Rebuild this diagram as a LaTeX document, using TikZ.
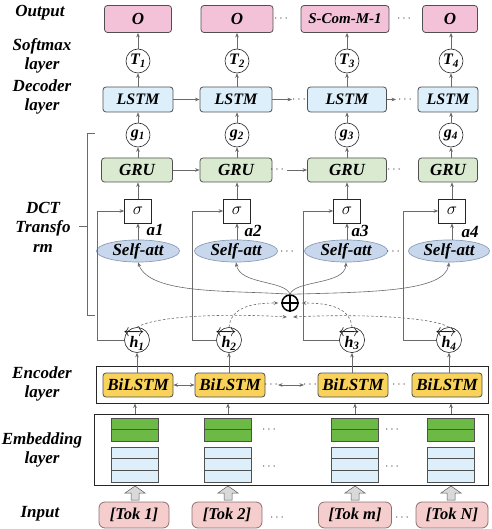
\documentclass[tikz,border=0pt]{standalone}
\usepackage{fontspec}
\usepackage{amsmath}
\setmainfont{Liberation Serif}
\usetikzlibrary{arrows.meta,shapes.geometric,calc}
\definecolor{linec}{HTML}{6A6A6A}
\definecolor{boxb}{HTML}{505050}
\definecolor{outpink}{HTML}{F3C2D9}
\definecolor{lstmblue}{HTML}{DDEFFA}
\definecolor{grugreen}{HTML}{D9EAD0}
\definecolor{attblue}{HTML}{C8D7EB}
\definecolor{attb}{HTML}{8A9DB8}
\definecolor{bilyellow}{HTML}{F8D25A}
\definecolor{embgreen}{HTML}{6CBA45}
\definecolor{inppink}{HTML}{F6CDCD}
\definecolor{inpb}{HTML}{8A7070}
\tikzset{
 txt/.style={font=\fontsize{17}{19.5}\selectfont\bfseries\itshape, inner sep=0pt},
 sidelbl/.style={txt, align=center},
 conn/.style={draw=linec, line width=0.6pt},
 arr/.style={conn, -{Stealth[length=4.5pt,width=3.6pt]}},
 dsh/.style={arr, dash pattern=on 2.5pt off 2pt},
 rbox/.style={txt, draw=boxb, line width=0.8pt, rounded corners=3pt},
 outbox/.style={rbox, fill=outpink, minimum height=27pt},
 lstmbox/.style={rbox, fill=lstmblue, minimum height=25pt, font=\fontsize{16}{18}\selectfont\bfseries\itshape},
 grubox/.style={rbox, fill=grugreen, minimum height=24pt},
 circ/.style={txt, circle, draw=black!85, line width=0.6pt, fill=white, minimum size=24pt, font=\fontsize{16}{18}\selectfont\bfseries\itshape},
 sigbox/.style={draw=black!85, line width=0.7pt, fill=white, minimum width=27pt, minimum height=24pt, inner sep=0pt, font=\fontsize{16}{18}\selectfont},
 attell/.style={txt, ellipse, draw=attb, line width=0.7pt, fill=attblue, minimum width=83pt, minimum height=22pt, font=\fontsize{17}{20}\selectfont\bfseries\itshape},
 bil/.style={rbox, fill=bilyellow, minimum width=70pt, minimum height=24pt, font=\fontsize{17}{20}\selectfont\bfseries\itshape},
 grn/.style={draw=boxb, line width=0.6pt, fill=embgreen, minimum width=47pt, minimum height=23pt, inner sep=0pt},
 blu/.style={draw=boxb, line width=0.6pt, fill=lstmblue, minimum width=47pt, minimum height=35pt, inner sep=0pt},
 inp/.style={rbox, fill=inppink, draw=inpb, rounded corners=6pt, minimum width=70pt, minimum height=26pt, font=\fontsize{16.5}{19}\selectfont\bfseries\itshape},
 dotsn/.style={font=\fontsize{12}{14}\selectfont, inner sep=0pt, text=black!75},
 outframe/.style={draw=black!85, line width=1pt, inner sep=0pt},
 fat/.style={draw=gray!70!black, fill=gray!30, line width=0.5pt},
 alab/.style={txt},
}
\newcommand{\hv}[1]{\makebox[0.56em][c]{$\overleftrightarrow{\text{h}}$}\textsubscript{#1}}
\begin{document}
\begin{tikzpicture}[x=1pt,y=-1pt]
\useasboundingbox (0,0) rectangle (491,529);

% left labels
\node[sidelbl] (lout) at (40,13) {Output};
\node[sidelbl] (lsoft) at (42,56) {Softmax\\layer};
\node[sidelbl] (ldec) at (42,97) {Decoder\\layer};
\node[sidelbl] (ldct) at (43,227) {DCT\\Transfo\\rm};
\node[sidelbl] (lenc) at (42,384) {Encoder\\layer};
\node[sidelbl] (lemb) at (42,450) {Embedding\\layer};
\node[sidelbl] (linp) at (40,514) {Input};

% bracket
\draw[conn] (95,133) -- (87,133) -- (87,315) -- (95,315);
\draw[conn] (87,226) -- (79,226);

% output row
\node[outbox, minimum width=67pt] (o1) at (138,19) {O};
\node[outbox, minimum width=72pt] (o2) at (237,19) {O};
\node[outbox, minimum width=88pt, font=\fontsize{15}{18}\selectfont\bfseries\itshape] (o3) at (345,19) {S-Com-M-1};
\node[outbox, minimum width=55pt] (o4) at (450,19) {O};
\node[dotsn] (od1) at (282,19) {$\cdots$};
\node[dotsn] (od2) at (405,19) {$\cdots$};

% softmax
\node[circ] (t1) at (138,61) {T\textsubscript{1}};
\node[circ] (t2) at (237,61) {T\textsubscript{2}};
\node[circ] (t3) at (347,61) {T\textsubscript{3}};
\node[circ] (t4) at (451,61) {T\textsubscript{4}};

% decoder
\node[lstmbox, minimum width=70pt] (ls1) at (138,99.5) {LSTM};
\node[lstmbox, minimum width=72pt] (ls2) at (236,99.5) {LSTM};
\node[lstmbox, minimum width=79pt] (ls3) at (347,99.5) {LSTM};
\node[lstmbox, minimum width=60pt] (ls4) at (448,99.5) {LSTM};
\coordinate (la) at (292,99.5);
\coordinate (lb) at (396,99.5);
\node[dotsn] (ld1) at (300,99.5) {$\cdots$};
\node[dotsn] (ld2) at (406,99.5) {$\cdots$};

% g circles
\node[circ] (g1) at (138,135) {g\textsubscript{1}};
\node[circ] (g2) at (237,135) {g\textsubscript{2}};
\node[circ] (g3) at (347,135) {g\textsubscript{3}};
\node[circ] (g4) at (451,135) {g\textsubscript{4}};

% GRU
\node[grubox, minimum width=71pt] (gr1) at (137,170) {GRU};
\node[grubox, minimum width=72pt] (gr2) at (236,170) {GRU};
\node[grubox, minimum width=79pt] (gr3) at (347,170) {GRU};
\node[grubox, minimum width=59pt] (gr4) at (448,170) {GRU};
\node[dotsn] (gd1) at (278,170) {$\cdots$};
\coordinate (ga) at (287,170);
\node[dotsn] (gd2) at (395,170) {$\cdots$};

% sigma
\node[sigbox] (s1) at (138,211) {$\sigma$};
\node[sigbox] (s2) at (237,211) {$\sigma$};
\node[sigbox] (s3) at (347,211) {$\sigma$};
\node[sigbox] (s4) at (452,211) {$\sigma$};

% self-att
\node[attell] (a1) at (138,251) {Self-att};
\node[attell] (a2) at (236,251) {Self-att};
\node[attell] (a3) at (346,251) {Self-att};
\node[attell, minimum width=81pt] (a4) at (449,251) {Self-att};
\node[dotsn] (ad1) at (288,252) {$\cdots$};
\node[dotsn] (ad2) at (394,252) {$\cdots$};
\node[alab] (al1) at (155,230) {a1};
\node[alab] (al2) at (253,231) {a2};
\node[alab] (al3) at (360,231) {a3};
\node[alab] (al4) at (470,232) {a4};

% plus
\node[circle, draw=black, line width=1.5pt, minimum size=16pt, inner sep=0pt] (pl) at (290,303) {};
\draw[line width=1.5pt] (pl.north) -- (pl.south) (pl.west) -- (pl.east);
\coordinate (pbl) at (287,317);
\coordinate (pbr) at (293,317);

% h circles
\node[circ] (h1) at (137,340) {\hv{1}};
\node[circ] (h2) at (229,340) {\hv{2}};
\node[circ] (h3) at (352,340) {\hv{3}};
\node[circ] (h4) at (449,340) {\hv{4}};

% encoder
\node[outframe, minimum width=392pt, minimum height=37pt] (enc) at (292,384.5) {};
\node[bil] (b1) at (138,385) {BiLSTM};
\node[bil] (b2) at (230,385) {BiLSTM};
\node[bil] (b3) at (353,385) {BiLSTM};
\node[bil] (b4) at (447,385) {BiLSTM};
\node[dotsn] (bd1) at (272,385) {$\cdots$};
\coordinate (bla) at (278,385);
\coordinate (blb) at (304,385);
\node[dotsn] (bd2) at (311,385) {$\cdots$};
\node[dotsn] (bd3) at (400,385) {$\cdots$};

% embedding
\node[outframe, minimum width=394pt, minimum height=71pt] (emb) at (291,449.5) {};
\foreach \n/\x in {1/135,2/228,3/355,4/451}{
  \node[grn] (e\n) at (\x,429.5) {};
  \draw[boxb, line width=0.6pt] (e\n.west) -- (e\n.east);
  \node[blu] (f\n) at (\x,464.5) {};
  \draw[boxb, line width=0.6pt] ($(f\n.north west)!1/3!(f\n.south west)$) -- ($(f\n.north east)!1/3!(f\n.south east)$);
  \draw[boxb, line width=0.6pt] ($(f\n.north west)!2/3!(f\n.south west)$) -- ($(f\n.north east)!2/3!(f\n.south east)$);
}
\node[dotsn] (ed1) at (270,430) {$\cdots$};
\node[dotsn] (ed2) at (270,467) {$\cdots$};
\node[dotsn] (ed3) at (393,430) {$\cdots$};
\node[dotsn] (ed4) at (393,467) {$\cdots$};

% inputs
\node[inp] (i1) at (134,515) {[Tok 1]};
\node[inp] (i2) at (227,515) {[Tok 2]};
\node[inp, minimum width=73pt] (i3) at (355,515) {[Tok m]};
\node[inp, minimum width=72pt] (i4) at (452,515) {[Tok N]};
\node[dotsn] (id1) at (278,518) {$\cdots$};
\node[dotsn] (id2) at (403,518) {$\cdots$};
\foreach \x in {135,228,355,451}{
  \draw[fat] ({\x-4},500) -- ({\x+4},500) -- ({\x+4},493) -- ({\x+10},493) -- (\x,486) -- ({\x-10},493) -- ({\x-4},493) -- cycle;
}

% vertical connectors
\foreach \i in {1,2,3,4}{
  \draw[arr] (t\i.north) -- (t\i.north |- o\i.south);
  \draw[arr] (ls\i.north -| t\i) -- (t\i.south);
  \draw[arr] (g\i.north) -- (g\i.north |- ls\i.south);
  \draw[arr] (gr\i.north -| g\i) -- (g\i.south);
  \draw[arr] (s\i.north) -- (s\i.north |- gr\i.south);
  \draw[arr] (a\i.north -| s\i) -- (s\i.south);
  \draw[arr] (b\i.north -| h\i) -- (h\i.south);
  \draw[arr] (e\i.north |- emb.north) -- (e\i.north |- enc.south);
}

% horizontal connectors
\draw[arr] (ls1) -- (ls2);
\draw[arr] (ls2.east) -- (la);
\draw[arr] (ls3.east) -- (lb);
\draw[arr] (gr1) -- (gr2);
\draw[arr] (ga) -- (gr3.west);
\draw[conn, {Stealth[length=4.5pt,width=3.6pt]}-{Stealth[length=4.5pt,width=3.6pt]}] (b1) -- (b2);
\draw[conn, {Stealth[length=4.5pt,width=3.6pt]}-{Stealth[length=4.5pt,width=3.6pt]}] (bla) -- (blb);

% skip connections h -> sigma
\coordinate (k1) at (97,340);
\coordinate (k2) at (192,340);
\coordinate (k3) at (303,340);
\coordinate (k4) at (403,340);
\foreach \i in {1,2,3,4}{
  \draw[arr] (h\i.west) -- (k\i) |- (s\i.west);
}

% dashed curves h -> plus
\draw[dsh] (h1.north) .. controls (160,314) and (240,314) .. (pbl);
\draw[dsh] (h4.north) .. controls (430,316) and (350,314) .. (pbr);
\draw[dsh, shorten >=3pt] (h2.north) .. controls (231,308) and (250,303) .. (pl.west);
\draw[dsh, shorten >=3pt] (h3.north) .. controls (350,308) and (330,303) .. (pl.east);

% solid curves plus -> self-att
\draw[arr] (pl.north) .. controls (230,290) and (150,295) .. (a1.south);
\draw[arr] (pl.north) .. controls (285,280) and (240,285) .. (a2.south);
\draw[arr] (pl.north) .. controls (295,280) and (345,285) .. (a3.south);
\draw[arr] (pl.north) .. controls (370,292) and (445,292) .. (a4.south);
\end{tikzpicture}
\end{document}
